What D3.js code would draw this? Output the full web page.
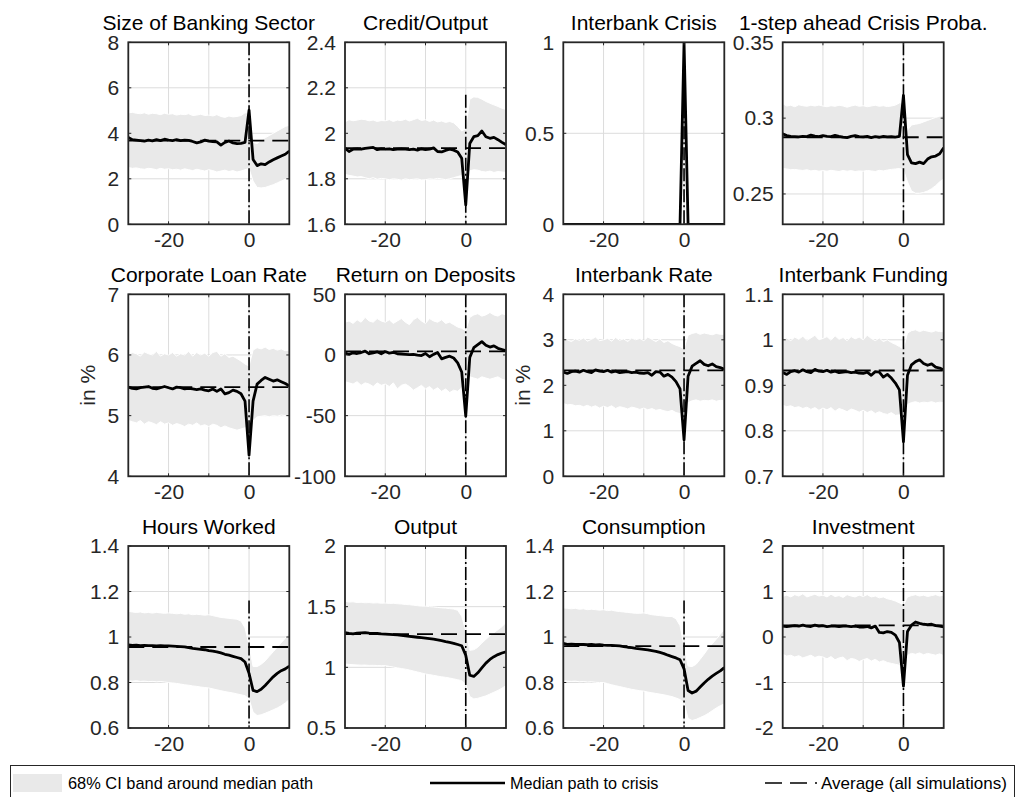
<!DOCTYPE html>
<html><head><meta charset="utf-8">
<script src="https://cdn.jsdelivr.net/npm/d3@7"></script>
<style>body{margin:0;background:#fff} svg{display:block;font-family:"Liberation Sans",Arial,sans-serif}</style>
</head><body><svg id="c" width="1024" height="797"></svg>
<script>
const periods = [-30,-29,-28,-27,-26,-25,-24,-23,-22,-21,-20,-19,-18,-17,-16,-15,-14,-13,-12,-11,-10,-9,-8,-7,-6,-5,-4,-3,-2,-1,0,1,2,3,4,5,6,7,8,9,10];
const xTickValues = [-20, 0];
const xTickLabels = ["-20", "0"];
const xGridValues = [-20, -10, 0];

const titles = ["Size of Banking Sector","Credit/Output","Interbank Crisis","1-step ahead Crisis Proba.",
  "Corporate Loan Rate","Return on Deposits","Interbank Rate","Interbank Funding",
  "Hours Worked","Output","Consumption","Investment"];
const yLabels = ["","","","","in %","","in %","","","","",""];
const yDomains = [[0,8],[1.6,2.4],[0,1],[0.23,0.35],[4,7],[-100,50],[0,4],[0.7,1.1],[0.6,1.4],[0.5,2],[0.6,1.4],[-2,2]];
const yTicks = [[0,2,4,6,8],[1.6,1.8,2,2.2,2.4],[0,0.5,1],[0.25,0.3,0.35],[4,5,6,7],[-100,-50,0,50],[0,1,2,3,4],[0.7,0.8,0.9,1,1.1],[0.6,0.8,1,1.2,1.4],[0.5,1,1.5,2],[0.6,0.8,1,1.2,1.4],[-2,-1,0,1,2]];
const yTickLabels = [["0","2","4","6","8"],["1.6","1.8","2","2.2","2.4"],["0","0.5","1"],["0.25","0.3","0.35"],["4","5","6","7"],["-100","-50","0","50"],["0","1","2","3","4"],["0.7","0.8","0.9","1","1.1"],["0.6","0.8","1","1.2","1.4"],["0.5","1","1.5","2"],["0.6","0.8","1","1.2","1.4"],["-2","-1","0","1","2"]];
const averages = [3.68, 1.935, 0, 0.2874, 5.47, 3.0, 2.33, 0.9325, 0.956, 1.273, 0.96, 0.255];
const crisisLineTop = [8, 2.17, 1, 0.35, 7, 50, 4, 1.1, 1.16, 2, 1.16, 2];

// Size of Banking Sector
const bankSizeMed = [3.82,3.72,3.70,3.68,3.66,3.70,3.67,3.72,3.68,3.74, 3.70,3.68,3.72,3.68,3.70,3.69,3.64,3.58,3.62,3.70, 3.66,3.64,3.62,3.48,3.60,3.66,3.58,3.55,3.56,3.60, 5.02, 2.85,2.58,2.66,2.62,2.74,2.84,2.92,3.00,3.08,3.22];
const bankSizeHi = [4.90,4.92,4.88,4.86,4.90,4.84,4.88,4.86,4.82,4.88, 4.84,4.86,4.80,4.84,4.82,4.86,4.78,4.80,4.84,4.78, 4.80,4.76,4.82,4.74,4.70,4.76,4.72,4.74,4.78,4.90, 4.90, 3.60,3.55,3.70,3.80,3.90,4.00,4.10,4.20,4.30,4.35];
const bankSizeLo = [2.50,2.46,2.48,2.44,2.42,2.46,2.44,2.40,2.46,2.42, 2.44,2.40,2.42,2.38,2.44,2.40,2.36,2.42,2.38,2.34, 2.40,2.36,2.30,2.34,2.38,2.32,2.36,2.30,2.34,2.40, 2.45, 1.90,1.62,1.60,1.62,1.68,1.74,1.82,1.90,1.98,2.05];
// Credit/Output
const creditMed = [1.935,1.920,1.930,1.932,1.930,1.934,1.936,1.938,1.928,1.932, 1.930,1.932,1.928,1.930,1.932,1.930,1.928,1.930,1.926,1.932, 1.928,1.930,1.936,1.920,1.918,1.925,1.930,1.926,1.918,1.890, 1.685, 1.955,1.985,1.990,2.010,1.985,1.978,1.982,1.972,1.960,1.950];
const creditHi = [2.050,2.060,2.055,2.058,2.062,2.060,2.055,2.058,2.052,2.056, 2.055,2.060,2.052,2.058,2.056,2.062,2.054,2.060,2.066,2.056, 2.060,2.052,2.058,2.050,2.054,2.048,2.052,2.046,2.030,2.010, 2.020, 2.150,2.160,2.158,2.150,2.140,2.132,2.125,2.118,2.110,2.105];
const creditLo = [1.820,1.815,1.812,1.808,1.810,1.805,1.800,1.805,1.798,1.802, 1.800,1.796,1.800,1.798,1.794,1.800,1.796,1.798,1.800,1.795, 1.796,1.800,1.798,1.802,1.800,1.796,1.800,1.805,1.810,1.815, 1.800, 1.835,1.840,1.838,1.832,1.830,1.834,1.828,1.832,1.830,1.828];
// Interbank Crisis
const crisisMed = [0,0,0,0,0,0,0,0,0,0, 0,0,0,0,0,0,0,0,0,0, 0,0,0,0,0,0,0,0,0,0, 1, 0,0,0,0,0,0,0,0,0,0];
const crisisHi = [0,0,0,0,0,0,0,0,0,0, 0,0,0,0,0,0,0,0,0,0, 0,0,0,0,0,0,0,0,0,0, 1, 0,0,0,0,0,0,0,0,0,0];
const crisisLo = [0,0,0,0,0,0,0,0,0,0, 0,0,0,0,0,0,0,0,0,0, 0,0,0,0,0,0,0,0,0,0, 1, 0,0,0,0,0,0,0,0,0,0];
// 1-step ahead crisis probability
const probMed = [0.2896,0.2885,0.2880,0.2878,0.2876,0.2880,0.2878,0.2888,0.2882,0.2878, 0.2885,0.2880,0.2878,0.2886,0.2880,0.2875,0.2872,0.2880,0.2885,0.2878, 0.2876,0.2880,0.2872,0.2878,0.2874,0.2880,0.2876,0.2878,0.2875,0.2880, 0.3150, 0.2760,0.2705,0.2700,0.2710,0.2700,0.2730,0.2745,0.2750,0.2765,0.2805];
const probHi = [0.3095,0.3080,0.3085,0.3075,0.3088,0.3082,0.3078,0.3085,0.3080,0.3086, 0.3080,0.3075,0.3082,0.3078,0.3085,0.3080,0.3072,0.3080,0.3086,0.3078, 0.3082,0.3075,0.3080,0.3085,0.3078,0.3082,0.3076,0.3080,0.3086,0.3100, 0.3100, 0.2920,0.2955,0.2960,0.2965,0.2975,0.2985,0.2995,0.3005,0.3012,0.3018];
const probLo = [0.2668,0.2665,0.2660,0.2662,0.2658,0.2655,0.2660,0.2652,0.2656,0.2650, 0.2654,0.2650,0.2656,0.2652,0.2648,0.2655,0.2650,0.2654,0.2648,0.2652, 0.2650,0.2655,0.2652,0.2648,0.2656,0.2652,0.2658,0.2662,0.2665,0.2668, 0.2660, 0.2580,0.2520,0.2505,0.2505,0.2510,0.2520,0.2535,0.2555,0.2580,0.2600];
// Corporate Loan Rate
const loanMed = [5.47,5.45,5.44,5.46,5.47,5.48,5.45,5.44,5.46,5.48, 5.46,5.44,5.47,5.46,5.44,5.45,5.44,5.43,5.44,5.42, 5.41,5.44,5.40,5.44,5.36,5.38,5.42,5.40,5.36,5.24, 4.35, 5.24,5.52,5.58,5.63,5.60,5.57,5.59,5.56,5.53,5.49];
const loanHi = [6.00,6.04,6.02,5.98,6.05,6.02,6.00,6.06,5.98,6.02, 6.00,6.04,5.98,6.02,6.00,6.06,5.98,6.04,6.00,6.03, 5.98,6.04,6.06,5.98,6.02,5.96,5.98,5.94,5.90,5.85, 5.82, 6.08,6.12,6.10,6.13,6.09,6.11,6.08,6.10,6.07,6.08];
const loanLo = [4.92,4.90,4.88,4.92,4.86,4.90,4.88,4.85,4.90,4.86, 4.88,4.84,4.87,4.85,4.82,4.86,4.84,4.88,4.83,4.85, 4.82,4.86,4.84,4.80,4.83,4.80,4.78,4.76,4.78,4.80, 4.80, 4.92,4.98,4.99,5.00,4.98,5.00,4.99,5.01,5.00,5.00];
// Return on Deposits
const depositMed = [1.5,0.5,1.8,1.2,2.0,3.2,1.0,1.8,2.6,1.0, 2.8,1.5,2.2,1.0,0.8,0.5,0.2,0.4,-0.2,-0.5, 1.2,-1.5,0.5,2.0,-3.2,-2.0,-1.0,-2.5,-6.5,-14, -50.5, -2.0,6.0,8.5,11.0,8.0,6.5,7.5,5.5,4.5,3.5];
const depositHi = [27,28,26,29,27,31,28,27,30,28, 27,29,26,28,30,27,25,29,31,28, 26,30,28,27,29,26,27,25,23,22, 20, 31,33,34,32,33,35,33,32,34,33];
const depositLo = [-22,-23,-24,-22,-25,-23,-24,-26,-23,-25, -24,-26,-23,-28,-25,-24,-26,-29,-27,-25, -28,-26,-29,-27,-30,-28,-31,-29,-30,-27, -22, -18,-19,-20,-18,-19,-20,-19,-18,-20,-21];
// Interbank Rate
const ibRateMed = [2.29,2.26,2.30,2.31,2.29,2.33,2.30,2.28,2.34,2.31, 2.30,2.33,2.29,2.31,2.28,2.29,2.30,2.28,2.29,2.27, 2.26,2.28,2.22,2.30,2.29,2.20,2.24,2.18,2.08,1.92, 0.80, 2.20,2.42,2.48,2.54,2.46,2.43,2.47,2.41,2.39,2.35];
const ibRateHi = [2.98,3.00,2.96,3.02,2.99,3.04,2.97,3.01,3.06,2.98, 3.00,3.03,2.97,3.05,2.99,3.02,2.96,3.04,3.00,3.03, 2.98,3.06,3.01,2.96,3.02,2.94,2.98,2.92,2.88,2.85, 2.80, 3.10,3.14,3.16,3.12,3.15,3.13,3.11,3.14,3.12,3.12];
const ibRateLo = [1.60,1.57,1.58,1.55,1.56,1.53,1.56,1.52,1.55,1.50, 1.54,1.51,1.55,1.49,1.53,1.51,1.48,1.52,1.50,1.47, 1.50,1.46,1.49,1.45,1.47,1.44,1.42,1.45,1.40,1.38, 1.40, 1.62,1.66,1.68,1.65,1.67,1.66,1.68,1.65,1.67,1.66];
// Interbank Funding
const ibFundMed = [0.928,0.924,0.930,0.932,0.929,0.934,0.930,0.928,0.935,0.931, 0.930,0.933,0.929,0.931,0.928,0.929,0.930,0.928,0.929,0.927, 0.926,0.929,0.922,0.930,0.929,0.918,0.924,0.916,0.905,0.890, 0.776, 0.922,0.945,0.952,0.956,0.948,0.944,0.947,0.940,0.938,0.934];
const ibFundHi = [1.000,1.004,0.998,1.006,1.001,1.008,0.999,1.004,1.010,1.000, 1.003,1.007,0.999,1.009,1.001,1.005,0.998,1.007,1.002,1.006, 1.000,1.010,1.003,0.998,1.004,0.996,1.000,0.994,0.990,0.985, 0.980, 1.015,1.020,1.022,1.018,1.021,1.019,1.017,1.020,1.018,1.018];
const ibFundLo = [0.856,0.853,0.855,0.851,0.853,0.849,0.852,0.847,0.851,0.845, 0.850,0.846,0.851,0.843,0.849,0.846,0.842,0.848,0.845,0.841, 0.845,0.840,0.844,0.838,0.842,0.838,0.836,0.840,0.834,0.835, 0.840, 0.858,0.862,0.864,0.861,0.863,0.862,0.864,0.861,0.863,0.862];
// Hours Worked
const hoursMed = [0.965,0.963,0.964,0.962,0.963,0.962,0.962,0.961,0.962,0.961, 0.961,0.960,0.959,0.958,0.957,0.953,0.950,0.948,0.946,0.944, 0.940,0.938,0.935,0.930,0.924,0.920,0.915,0.910,0.905,0.890, 0.840, 0.765,0.760,0.770,0.787,0.806,0.825,0.840,0.852,0.860,0.872];
const hoursHi = [1.113,1.110,1.108,1.110,1.106,1.108,1.105,1.108,1.106,1.104, 1.106,1.104,1.102,1.104,1.100,1.102,1.098,1.100,1.098,1.096, 1.098,1.094,1.090,1.086,1.084,1.082,1.080,1.078,1.070,1.040, 0.965, 0.870,0.870,0.880,0.895,0.915,0.935,0.955,0.975,0.995,1.020];
const hoursLo = [0.808,0.806,0.808,0.805,0.806,0.804,0.805,0.803,0.804,0.802, 0.800,0.798,0.796,0.793,0.790,0.788,0.785,0.783,0.780,0.778, 0.776,0.772,0.768,0.764,0.760,0.757,0.754,0.750,0.746,0.742, 0.728, 0.670,0.655,0.658,0.665,0.672,0.680,0.688,0.698,0.710,0.725];
// Output
const outputMed = [1.286,1.280,1.275,1.282,1.284,1.286,1.282,1.280,1.279,1.276, 1.274,1.272,1.270,1.267,1.264,1.260,1.256,1.252,1.248,1.244, 1.240,1.236,1.232,1.226,1.220,1.212,1.206,1.198,1.188,1.178, 1.100, 0.935,0.925,0.955,0.995,1.035,1.065,1.088,1.105,1.118,1.128];
const outputHi = [1.544,1.538,1.540,1.534,1.536,1.532,1.534,1.530,1.532,1.528, 1.530,1.526,1.528,1.524,1.522,1.518,1.516,1.512,1.508,1.504, 1.504,1.500,1.498,1.494,1.490,1.488,1.484,1.480,1.470,1.420, 1.300, 1.140,1.145,1.165,1.200,1.230,1.260,1.285,1.310,1.335,1.370];
const outputLo = [1.027,1.024,1.022,1.020,1.018,1.019,1.016,1.017,1.015,1.014, 1.014,1.008,1.002,0.996,0.990,0.985,0.978,0.970,0.962,0.954, 0.945,0.940,0.934,0.928,0.922,0.918,0.912,0.905,0.898,0.890, 0.860, 0.760,0.740,0.745,0.755,0.765,0.780,0.795,0.810,0.828,0.850];
// Consumption
const consMed = [0.972,0.968,0.969,0.967,0.968,0.967,0.966,0.967,0.965,0.966, 0.964,0.963,0.963,0.962,0.961,0.958,0.955,0.953,0.950,0.948, 0.946,0.943,0.940,0.937,0.932,0.927,0.920,0.914,0.908,0.900, 0.860, 0.765,0.754,0.762,0.780,0.798,0.814,0.828,0.840,0.851,0.865];
const consHi = [1.128,1.126,1.124,1.126,1.122,1.124,1.120,1.122,1.120,1.118, 1.120,1.116,1.118,1.114,1.112,1.110,1.108,1.106,1.104,1.104, 1.106,1.102,1.098,1.096,1.094,1.092,1.090,1.090,1.080,1.050, 0.960, 0.872,0.870,0.880,0.902,0.925,0.950,0.970,0.990,1.012,1.033];
const consLo = [0.808,0.806,0.805,0.806,0.803,0.804,0.802,0.803,0.801,0.800, 0.800,0.795,0.790,0.786,0.782,0.778,0.774,0.770,0.767,0.764, 0.762,0.758,0.755,0.752,0.749,0.746,0.742,0.738,0.732,0.725, 0.710, 0.642,0.633,0.638,0.646,0.654,0.664,0.676,0.688,0.698,0.706];
// Investment
const invMed = [0.24,0.23,0.24,0.25,0.24,0.26,0.24,0.23,0.26,0.24, 0.25,0.23,0.24,0.24,0.23,0.24,0.24,0.23,0.24,0.22, 0.22,0.23,0.20,0.24,0.10,0.09,0.12,0.10,0.04,-0.12, -1.08, 0.12,0.26,0.33,0.30,0.28,0.27,0.28,0.25,0.24,0.22];
const invHi = [0.89,0.92,0.88,0.93,0.90,0.95,0.88,0.91,0.94,0.90, 0.92,0.88,0.94,0.89,0.91,0.87,0.93,0.90,0.88,0.92, 0.89,0.93,0.88,0.90,0.86,0.88,0.84,0.82,0.79,0.75, 0.70, 0.88,0.91,0.93,0.90,0.92,0.89,0.91,0.93,0.90,0.92];
const invLo = [-0.38,-0.42,-0.40,-0.44,-0.41,-0.46,-0.43,-0.40,-0.45,-0.42, -0.44,-0.48,-0.43,-0.50,-0.46,-0.44,-0.52,-0.47,-0.49,-0.54, -0.50,-0.47,-0.53,-0.49,-0.55,-0.52,-0.56,-0.58,-0.60,-0.62, -0.70, -0.40,-0.36,-0.38,-0.35,-0.39,-0.36,-0.38,-0.40,-0.37,-0.41];

const medians = [bankSizeMed, creditMed, crisisMed, probMed, loanMed, depositMed, ibRateMed, ibFundMed, hoursMed, outputMed, consMed, invMed];
const highs = [bankSizeHi, creditHi, crisisHi, probHi, loanHi, depositHi, ibRateHi, ibFundHi, hoursHi, outputHi, consHi, invHi];
const lows = [bankSizeLo, creditLo, crisisLo, probLo, loanLo, depositLo, ibRateLo, ibFundLo, hoursLo, outputLo, consLo, invLo];

const legendLabels = ["68% CI band around median path", "Median path to crisis", "Average (all simulations)"];

// ---- layout ----
const colLeft = [128.3, 345, 563.3, 782.7];
const rowTop = [42.3, 294.3, 546];
const PW = 161, PH = 182;
const FONT = 21;
const axisColor = "#262626";

const svg = d3.select("#c");

for (let k = 0; k < 12; k++) {
  const r = Math.floor(k / 4), c = k % 4;
  const g = svg.append("g").attr("transform", `translate(${colLeft[c]},${rowTop[r]})`);
  const x = d3.scaleLinear().domain([-30, 10]).range([0, PW]);
  const y = d3.scaleLinear().domain(yDomains[k]).range([PH, 0]);
  const clipId = "clip" + k;
  g.append("clipPath").attr("id", clipId).append("rect").attr("width", PW).attr("height", PH);
  const plot = g.append("g").attr("clip-path", `url(#${clipId})`);

  // grid
  plot.selectAll(".hg").data(yTicks[k]).join("line")
    .attr("x1", 0).attr("x2", PW).attr("y1", d => y(d)).attr("y2", d => y(d))
    .attr("stroke", "#dcdcdc").attr("stroke-width", 1);
  plot.selectAll(".vg").data(xGridValues).join("line")
    .attr("y1", 0).attr("y2", PH).attr("x1", d => x(d)).attr("x2", d => x(d))
    .attr("stroke", "#dcdcdc").attr("stroke-width", 1);

  const rows = periods.map((p, i) => ({p, m: medians[k][i], lo: lows[k][i], hi: highs[k][i]}));

  // band
  plot.append("path").datum(rows)
    .attr("d", d3.area().x(d => x(d.p)).y0(d => y(d.lo)).y1(d => y(d.hi)))
    .attr("fill", "#e9e9e9").attr("stroke", "#ffffff").attr("stroke-width", 1);

  // crisis vertical line at 0
  plot.append("line")
    .attr("x1", x(0)).attr("x2", x(0)).attr("y1", y(crisisLineTop[k])).attr("y2", y(yDomains[k][0]))
    .attr("stroke", "#000").attr("stroke-width", 1.6).attr("stroke-dasharray", "13,3,2,3");

  // average dashed
  plot.append("line")
    .attr("x1", x(-30)).attr("x2", x(10)).attr("y1", y(averages[k])).attr("y2", y(averages[k]))
    .attr("stroke", "#000").attr("stroke-width", 1.8).attr("stroke-dasharray", "16,8");

  // median
  plot.append("path").datum(rows)
    .attr("d", d3.line().x(d => x(d.p)).y(d => y(d.m)))
    .attr("fill", "none").attr("stroke", "#000").attr("stroke-width", 2.8).attr("stroke-linejoin", "round");

  // inward ticks
  yTicks[k].forEach(t => {
    g.append("line").attr("x1", 0).attr("x2", 3).attr("y1", y(t)).attr("y2", y(t)).attr("stroke", axisColor);
    g.append("line").attr("x1", PW - 3).attr("x2", PW).attr("y1", y(t)).attr("y2", y(t)).attr("stroke", axisColor);
  });
  xGridValues.forEach(t => {
    g.append("line").attr("x1", x(t)).attr("x2", x(t)).attr("y1", 0).attr("y2", 3).attr("stroke", axisColor);
    g.append("line").attr("x1", x(t)).attr("x2", x(t)).attr("y1", PH - 3).attr("y2", PH).attr("stroke", axisColor);
  });

  // box
  g.append("rect").attr("width", PW).attr("height", PH).attr("fill", "none")
    .attr("stroke", axisColor).attr("stroke-width", 1.8);

  // axes labels
  const ya = d3.axisLeft(y).tickValues(yTicks[k]).tickSize(0).tickPadding(9)
    .tickFormat((d, i) => yTickLabels[k][i]);
  const yg = g.append("g").call(ya);
  yg.select(".domain").remove();
  yg.selectAll("text").attr("font-size", FONT).attr("fill", axisColor).attr("font-family", "Liberation Sans, Arial, sans-serif");

  const xa = d3.axisBottom(x).tickValues(xTickValues).tickSize(0).tickPadding(8)
    .tickFormat((d, i) => xTickLabels[i]);
  const xg = g.append("g").attr("transform", `translate(0,${PH})`).call(xa);
  xg.select(".domain").remove();
  xg.selectAll("text").attr("font-size", FONT).attr("fill", axisColor).attr("font-family", "Liberation Sans, Arial, sans-serif");

  // title
  g.append("text").attr("x", PW / 2).attr("y", -12).attr("text-anchor", "middle")
    .attr("font-size", FONT).attr("fill", "#000").text(titles[k]);

  if (yLabels[k]) {
    g.append("text").attr("transform", `translate(-41,${PH / 2}) rotate(-90)`)
      .attr("text-anchor", "middle").attr("dy", "0.35em")
      .attr("font-size", FONT).attr("fill", axisColor).text(yLabels[k]);
  }
}

// legend
const lg = svg.append("g");
lg.append("rect").attr("x", 10.5).attr("y", 765.5).attr("width", 1004).attr("height", 40)
  .attr("fill", "#fff").attr("stroke", axisColor).attr("stroke-width", 1);
lg.append("rect").attr("x", 13).attr("y", 774).attr("width", 49).attr("height", 18).attr("fill", "#e9e9e9");
lg.append("text").attr("x", 68).attr("y", 789).attr("font-size", 16.4).attr("fill", "#000").text(legendLabels[0]);
lg.append("line").attr("x1", 430).attr("x2", 505).attr("y1", 783).attr("y2", 783).attr("stroke", "#000").attr("stroke-width", 2.5);
lg.append("text").attr("x", 510).attr("y", 789).attr("font-size", 16.2).attr("fill", "#000").text(legendLabels[1]);
lg.append("line").attr("x1", 765).attr("x2", 817).attr("y1", 783).attr("y2", 783).attr("stroke", "#000").attr("stroke-width", 1.5).attr("stroke-dasharray", "17,8");
lg.append("text").attr("x", 821).attr("y", 789).attr("font-size", 17).attr("fill", "#000").text(legendLabels[2]);
</script></body></html>
